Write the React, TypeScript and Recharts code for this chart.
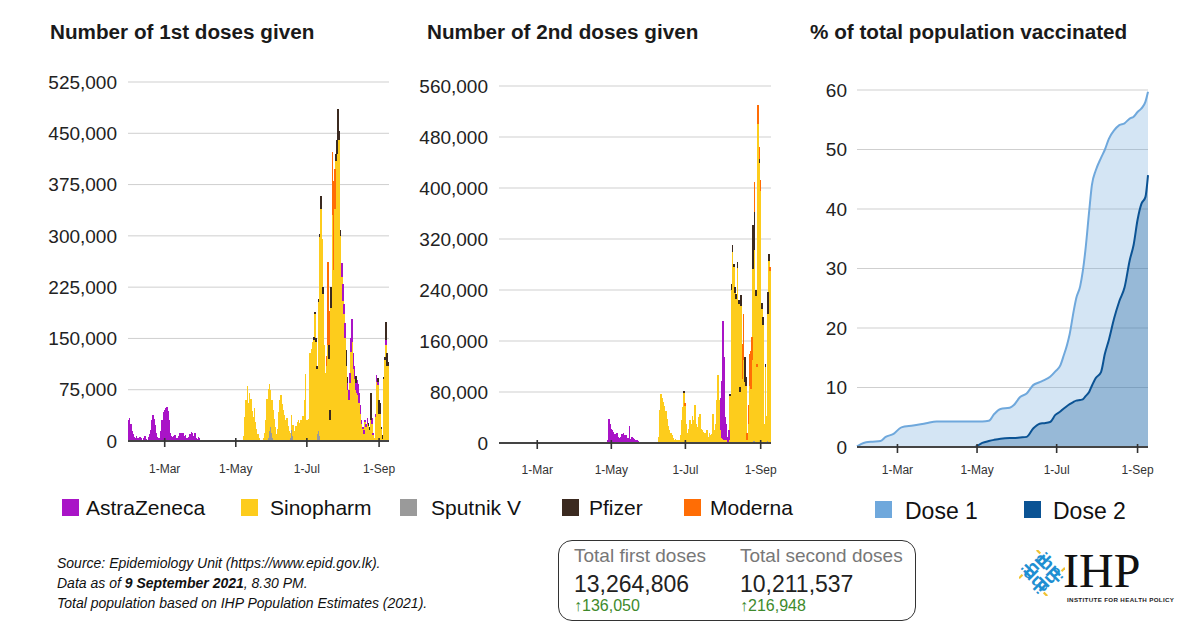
import React from 'react';
import { BarChart, Bar, XAxis, YAxis, CartesianGrid, AreaChart, Area } from 'recharts';

const FONT = '"Liberation Sans", Arial, Helvetica, sans-serif';

// ---------- categories ----------
const START_UTC = Date.UTC(2021, 0, 29); // first day shown: 29-Jan-2021
const N_DAYS = 224; // 29-Jan .. 9-Sep
const MONTHS = ['Jan', 'Feb', 'Mar', 'Apr', 'May', 'Jun', 'Jul', 'Aug', 'Sep', 'Oct', 'Nov', 'Dec'];
const dayLabels: string[] = Array.from({ length: N_DAYS }, (_, i) => {
  const d = new Date(START_UTC + i * 86400000);
  return `${d.getUTCDate()}-${MONTHS[d.getUTCMonth()]}`;
});
const xTickLabels = ['1-Mar', '1-May', '1-Jul', '1-Sep'];
const xTickDays = [31, 92, 153, 215];

const yTicks1 = [0, 75000, 150000, 225000, 300000, 375000, 450000, 525000];
const yTicks2 = [0, 80000, 160000, 240000, 320000, 400000, 480000, 560000];
const yTicks3 = [0, 10, 20, 30, 40, 50, 60];

// ---------- 1st doses (thousands per day) ----------
const az1EarlyStart = 0;
const az1Early = [30, 34, 25, 14, 10, 6, 4, 8, 5, 2, 6, 4, 1, 5, 7, 3, 1, 6, 10, 16, 30, 38, 32, 24, 12, 6, 4, 3, 14, 30,
  42, 45, 48, 50, 44, 30, 12, 8, 6, 7, 9, 5, 4, 8, 12, 11, 10, 12, 8, 9, 5, 4, 6, 10, 13, 12, 8, 11, 5, 3, 6, 4, 2, 1];
const az1LateStart = 183;
const az1Late = [20, 25, 15, 22, 0, 10, 15, 15, 20, 34, 23, 19, 10, 19, 16, 15, 12, 6, 3, 6, 3, 5, 8, 0, 0, 0, 8,
  2, 0, 5, 10, 5, 0, 0, 0, 0, 0, 0, 8, 0, 0];
const sino1Start = 99;
const sino1 = [6, 35, 60, 81, 56, 70, 62, 44, 35, 48, 28,
  18, 10, 5, 2, 1, 2, 4, 12, 30, 62,
  72, 70, 55, 48, 40, 32, 20, 10, 18, 42,
  60, 67, 54, 46, 38, 30, 34, 22, 14, 8,
  22, 15, 10, 14, 22, 28, 30, 26, 30, 28,
  36, 60, 98, 30, 22, 32, 128, 135, 145, 148,
  186, 145, 96, 190, 290, 340, 295, 215, 140, 100,
  110, 140, 120, 30, 195, 330, 250, 340, 410, 420,
  440, 440, 300, 240, 205, 185, 150, 110, 75, 60,
  85, 130, 145, 105, 90, 75, 70, 68, 55, 40,
  25, 18, 10, 28, 20, 25, 22, 16, 30, 25,
  9, 5, 35, 86, 82, 40, 40, 18, 3, 90,
  118, 140, 110, 110];
const sput1: [number, number][] = [[99, 2], [120, 4], [121, 14], [122, 20], [123, 12], [124, 5], [139, 4], [140, 16], [141, 8], [162, 10], [163, 14], [164, 8]];
const pfizer1: [number, number][] = [[159, 4], [160, 3], [161, 5], [162, 4], [163, 3], [164, 5], [165, 18], [167, 10], [172, 20], [173, 15], [174, 30],
  [178, 10], [179, 20], [180, 46], [181, 14], [182, 8], [187, 23], [188, 9], [195, 10], [206, 4], [207, 4], [208, 40], [214, 5], [215, 20],
  [216, 15], [217, 3], [218, 6], [219, 4], [220, 5], [221, 26], [222, 18], [223, 5]];
const moderna1: [number, number][] = [[170, 15], [171, 122], [172, 50], [175, 93], [176, 130], [177, 58]];

// ---------- 2nd doses (thousands per day) ----------
const az2EarlyStart = 89;
const az2Early = [5, 38, 30, 22, 20, 17, 14, 12, 16, 10, 8, 9, 14, 15, 12, 13, 6, 8, 26, 6, 9, 8, 7, 5, 4, 3, 2, 1, 1, 1,
  2, 1, 1, 1, 2, 1, 1, 1, 2, 1, 1];
const az2LateStart = 182;
const az2Late = [50, 90, 185, 130, 36, 25, 9, 15];
const sino2Start = 131;
const sino2 = [10, 51, 77, 70, 64, 58, 50, 38, 26, 20,
  15, 12, 8, 5, 6, 4, 3, 5, 12, 36,
  56, 78, 58, 30, 15, 22, 36, 30, 43, 36,
  59, 30, 25, 41, 46, 22, 20, 18, 15, 12,
  20, 10, 15, 12, 14, 46, 20, 30, 67, 106,
  67, 20, 8, 7, 5, 5, 5, 0, 5, 74,
  240, 300, 276, 235, 226, 274, 218, 80, 215, 100,
  130, 95, 90, 5, 30, 90, 85, 130, 270, 300,
  230, 120, 500, 440, 395, 210, 185, 30, 120, 41,
  200, 285, 270];
const sput2: [number, number][] = [[209, 3], [210, 3], [220, 2], [221, 3]];
const pfizer2: [number, number][] = [[152, 4], [190, 3], [191, 10], [192, 10], [193, 5], [194, 10], [195, 8], [196, 10], [197, 6], [198, 8], [199, 17],
  [202, 40], [203, 14], [209, 69], [210, 60], [211, 10], [214, 5], [216, 9], [217, 13], [219, 4], [221, 34], [222, 12]];
const moderna2: [number, number][] = [[153, 4], [200, 56], [201, 73], [204, 10], [205, 30], [206, 50], [207, 60], [208, 36], [210, 47],
  [212, 4], [213, 30], [214, 19], [215, 17], [223, 6]];

// ---------- % of population vaccinated ----------
const cumDays = [0, 3, 7, 12, 18, 22, 28, 34, 43, 53, 61, 80, 90, 96, 101, 105, 110, 117, 120, 125, 130, 135, 140, 143, 148, 152,
  156, 158, 161, 163, 166, 168, 171, 173, 175, 178, 180, 183, 187, 190, 193, 197, 201, 205, 209, 212, 215, 218, 221, 223];
const dose1Pct = [0.1, 0.5, 0.8, 0.9, 1.0, 1.7, 2.2, 3.3, 3.6, 4.0, 4.3, 4.3, 4.3, 4.3, 4.4, 5.5, 6.4, 6.6, 7.0, 8.4, 9.0, 10.4, 10.9, 11.2, 11.8, 12.7,
  13.8, 15.1, 17.2, 19.0, 22.8, 25.0, 27.0, 29.5, 33.0, 39.8, 44.0, 46.5, 48.6, 50.0, 51.8, 53.2, 54.1, 54.4, 55.2, 55.5, 56.3, 56.9, 58.0, 59.7];
const dose2Pct = [0, 0, 0, 0, 0, 0, 0, 0, 0, 0, 0, 0, 0, 0.7, 1.0, 1.2, 1.4, 1.5, 1.5, 1.6, 1.7, 3.1, 3.9, 4.0, 4.2, 5.4,
  6.0, 6.4, 6.9, 7.2, 7.6, 7.8, 7.9, 8.0, 8.5, 9.3, 10.3, 11.6, 12.6, 15.7, 18.0, 21.6, 24.5, 26.8, 31.4, 34.0, 38.2, 40.9, 42.0, 45.7];

// ---------- colours ----------
const C_AZ = '#a914c7';
const C_SINO = '#fdcc1c';
const C_SPUT = '#9a9a9a';
const C_PF = '#3b2a20';
const C_MOD = '#ff6d05';
const C_D1 = '#6fa8dc';
const C_D2 = '#0b5394';

// ---------- table builders ----------
const K = 1000;
function fromStart(start: number, vals: number[]): number[] {
  const out = new Array(N_DAYS).fill(0);
  vals.forEach((v, i) => { out[start + i] += v; });
  return out;
}
function fromPairs(pairs: [number, number][]): number[] {
  const out = new Array(N_DAYS).fill(0);
  pairs.forEach(([d, v]) => { out[d] += v; });
  return out;
}
function sumArr(a: number[], b: number[]): number[] { return a.map((v, i) => v + b[i]); }

function buildTable(az: number[], sino: number[], sput: number[], pf: number[], mod: number[]) {
  return dayLabels.map((d, i) => ({
    d,
    az: az[i] * K,
    sino: sino[i] * K,
    sput: sput[i] * K,
    pf: pf[i] * K,
    mod: mod[i] * K,
  }));
}

const dose1Table = buildTable(
  sumArr(fromStart(az1EarlyStart, az1Early), fromStart(az1LateStart, az1Late)),
  fromStart(sino1Start, sino1),
  fromPairs(sput1),
  fromPairs(pfizer1),
  fromPairs(moderna1),
);
const dose2Table = buildTable(
  sumArr(fromStart(az2EarlyStart, az2Early), fromStart(az2LateStart, az2Late)),
  fromStart(sino2Start, sino2),
  fromPairs(sput2),
  fromPairs(pfizer2),
  fromPairs(moderna2),
);
const cumTable = cumDays.map((day, i) => ({ day, dose1: dose1Pct[i], dose2: dose2Pct[i] }));

const dayName: Record<number, string> = {};
xTickDays.forEach((d, i) => { dayName[d] = xTickLabels[i]; });

const makeDateTick = (labelDy: number, numeric: boolean) => (props: any) => {
  const { x, y, payload } = props;
  const label = numeric ? dayName[payload.value] : payload.value;
  return (
    <g>
      <line x1={x} x2={x} y1={y - 3} y2={y + 6} stroke="#333" strokeWidth={1.6} />
      <text x={x} y={y + labelDy} textAnchor="middle" dominantBaseline="central" fontSize={12} fill="#333" fontFamily={FONT}>
        {label}
      </text>
    </g>
  );
};

// bars are ~1.2px wide; draw each a little wider so neighbouring days touch without seams
const solidBar = (props: any) => {
  const { x, y, width, height, fill } = props;
  if (!height || height <= 0) return <g />;
  return <rect x={x - 0.3} y={y} width={Math.max(width, 1) + 0.6} height={height} fill={fill} shapeRendering="crispEdges" />;
};

const fmtNum = (v: number) => v.toLocaleString('en-US');
const yTickStyle = { fontSize: 19, fill: '#222', fontFamily: FONT };

function StackedDoses({ data, yTicks, yWidth, margin, tickDy, width, height }: any) {
  return (
    <BarChart width={width} height={height} data={data} margin={margin} barCategoryGap={0} barGap={0}>
      <CartesianGrid vertical={false} stroke="#cfcfcf" strokeWidth={1} />
      <XAxis dataKey="d" ticks={xTickLabels} interval={0} height={30} tickSize={0} tickMargin={0} tickLine={false}
        axisLine={{ stroke: '#444', strokeWidth: 2 }} tick={makeDateTick(tickDy, false)} />
      <YAxis width={yWidth} domain={[0, yTicks[yTicks.length - 1]]} ticks={yTicks} interval={0} axisLine={false} tickLine={false}
        tickSize={0} tickMargin={11} tick={yTickStyle} tickFormatter={fmtNum} />
      <Bar dataKey="sput" stackId="s" fill={C_SPUT} shape={solidBar} isAnimationActive={false} />
      <Bar dataKey="sino" stackId="s" fill={C_SINO} shape={solidBar} isAnimationActive={false} />
      <Bar dataKey="az" stackId="s" fill={C_AZ} shape={solidBar} isAnimationActive={false} />
      <Bar dataKey="pf" stackId="s" fill={C_PF} shape={solidBar} isAnimationActive={false} />
      <Bar dataKey="mod" stackId="s" fill={C_MOD} shape={solidBar} isAnimationActive={false} />
    </BarChart>
  );
}

const legendItems = [
  { name: 'AstraZeneca', color: C_AZ, sq: 62, tx: 86 },
  { name: 'Sinopharm', color: C_SINO, sq: 241, tx: 270 },
  { name: 'Sputnik V', color: C_SPUT, sq: 400, tx: 431 },
  { name: 'Pfizer', color: C_PF, sq: 562, tx: 589 },
  { name: 'Moderna', color: C_MOD, sq: 684, tx: 710 },
];

const abs = (left: number, top: number, extra: any = {}) => ({ position: 'absolute' as const, left, top, ...extra });

function Title({ x, text }: { x: number; text: string }) {
  return (
    <div style={abs(x, 20.5, { fontSize: 20.7, lineHeight: '21px', fontWeight: 700, color: '#1a1a1a', whiteSpace: 'nowrap' })}>{text}</div>
  );
}

function IhpIcon() {
  const cx = 23;
  const cy = 23;
  return (
    <svg width={46} height={46} style={abs(1019, 550)}>
      <g transform={`rotate(45 ${cx} ${cy})`}>
        {[0, 90, 180, 270].map((r) => (
          <g key={r} transform={`rotate(${r} ${cx} ${cy})`}>
            <text x={cx} y={cy - 5} textAnchor="middle" fontSize={18} fontWeight={700} fill="#1f8fd2" fontFamily={FONT}>ihp</text>
            <rect x={cx + 11.5} y={cy - 20} width={2.2} height={5} fill="#f1c232" />
          </g>
        ))}
      </g>
    </svg>
  );
}

export default function App() {
  return (
    <div style={{ position: 'absolute', left: 0, top: 0, width: 1200, height: 630, background: '#fff', fontFamily: FONT, overflow: 'hidden', color: '#222' }}>
      <Title x={50} text="Number of 1st doses given" />
      <Title x={427} text="Number of 2nd doses given" />
      <Title x={810} text="% of total population vaccinated" />

      <div style={abs(40, 60)}>
        <StackedDoses data={dose1Table} yTicks={yTicks1} yWidth={88} width={360} height={430}
          margin={{ top: 22, right: 11, bottom: 19, left: 0 }} tickDy={28} />
      </div>
      <div style={abs(400, 60)}>
        <StackedDoses data={dose2Table} yTicks={yTicks2} yWidth={99} width={380} height={430}
          margin={{ top: 26, right: 9, bottom: 17, left: 0 }} tickDy={26.5} />
      </div>
      <div style={abs(800, 60)}>
        <AreaChart width={360} height={430} data={cumTable} margin={{ top: 30, right: 12, bottom: 13, left: 0 }}>
          <CartesianGrid vertical={false} stroke="#cfcfcf" strokeWidth={1} />
          <XAxis type="number" dataKey="day" domain={[0, 223]} ticks={xTickDays} interval={0} height={30} tickSize={0} tickMargin={0}
            tickLine={false} axisLine={{ stroke: '#444', strokeWidth: 2 }} tick={makeDateTick(22.5, true)} />
          <YAxis width={57} domain={[0, 60]} ticks={yTicks3} interval={0} axisLine={false} tickLine={false} tickSize={0} tickMargin={10}
            tick={yTickStyle} />
          <Area type="monotone" dataKey="dose1" stroke={C_D1} strokeWidth={2} fill={C_D1} fillOpacity={0.3} dot={false} activeDot={false} isAnimationActive={false} />
          <Area type="monotone" dataKey="dose2" stroke={C_D2} strokeWidth={2} fill={C_D2} fillOpacity={0.3} dot={false} activeDot={false} isAnimationActive={false} />
        </AreaChart>
      </div>

      {legendItems.map((it) => (
        <React.Fragment key={it.name}>
          <div style={abs(it.sq, 499, { width: 17, height: 17, background: it.color })} />
          <div style={abs(it.tx, 496.5, { fontSize: 21, lineHeight: '21px', color: '#111', whiteSpace: 'nowrap' })}>{it.name}</div>
        </React.Fragment>
      ))}

      <div style={abs(875, 501, { width: 17, height: 17, background: C_D1 })} />
      <div style={abs(905, 500, { fontSize: 23, lineHeight: '23px', color: '#111', whiteSpace: 'nowrap' })}>Dose 1</div>
      <div style={abs(1024, 501, { width: 17, height: 17, background: C_D2 })} />
      <div style={abs(1053, 500, { fontSize: 23, lineHeight: '23px', color: '#111', whiteSpace: 'nowrap' })}>Dose 2</div>

      <div style={abs(57, 553, { fontSize: 14, lineHeight: '20px', fontStyle: 'italic', color: '#111', whiteSpace: 'nowrap' })}>
        <div>Source: Epidemiology Unit (https://www.epid.gov.lk).</div>
        <div>Data as of <b>9 September 2021</b>, 8.30 PM.</div>
        <div>Total population based on IHP Population Estimates (2021).</div>
      </div>

      <div style={abs(558, 540, { width: 356, height: 79, border: '1.5px solid #333', borderRadius: 14 })} />
      {[
        { x: 574, title: 'Total first doses', total: '13,264,806', delta: '136,050' },
        { x: 740, title: 'Total second doses', total: '10,211,537', delta: '216,948' },
      ].map((c) => (
        <React.Fragment key={c.title}>
          <div style={abs(c.x, 545.5, { fontSize: 19, lineHeight: '19px', color: '#777', whiteSpace: 'nowrap' })}>{c.title}</div>
          <div style={abs(c.x, 573, { fontSize: 23, lineHeight: '23px', color: '#222', whiteSpace: 'nowrap' })}>{c.total}</div>
          <div style={abs(c.x, 598, { fontSize: 16, lineHeight: '16px', color: '#3e8a2c', whiteSpace: 'nowrap' })}>↑{c.delta}</div>
        </React.Fragment>
      ))}

      <IhpIcon />
      <div style={abs(1063, 550.5, { fontSize: 48, lineHeight: '40px', height: 40, color: '#111', fontFamily: '"Liberation Serif", "DejaVu Serif", serif', whiteSpace: 'nowrap' })}>IHP</div>
      <div style={abs(1067, 595.5, { fontSize: 6.2, lineHeight: '7px', fontWeight: 700, color: '#222', letterSpacing: 0.35, whiteSpace: 'nowrap' })}>INSTITUTE FOR HEALTH POLICY</div>
    </div>
  );
}
